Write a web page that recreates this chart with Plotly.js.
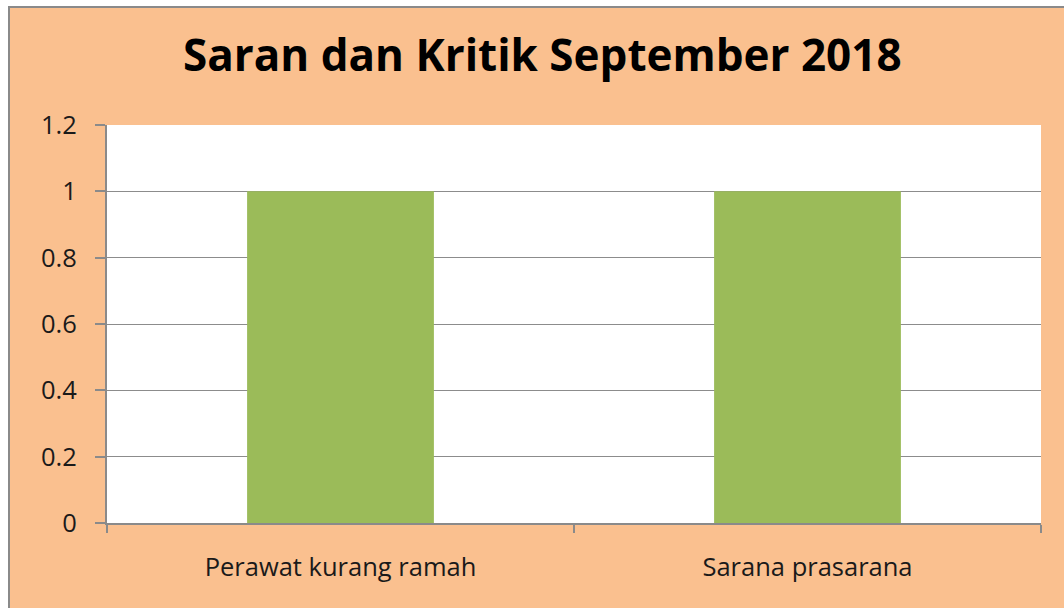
<!DOCTYPE html>
<html>
<head>
<meta charset="utf-8">
<script src="https://cdn.plot.ly/plotly-3.0.1.min.js"></script>
<style>
html, body { margin: 0; padding: 0; background: #ffffff; width: 1064px; height: 608px; overflow: hidden; }
#frame { position: absolute; left: 8px; top: 6px; width: 1056px; height: 602px; border-left: 2px solid #8a8a8a; border-top: 2px solid #8a8a8a; box-sizing: border-box; }
#chart { position: absolute; left: 0; top: 0; width: 1054px; height: 600px; }
</style>
</head>
<body>
<div id="frame"><div id="chart"></div></div>
<script>
var categories = ["Perawat kurang ramah", "Sarana prasarana"];
var values = [1, 1];
var tickValues = [0, 0.2, 0.4, 0.6, 0.8, 1, 1.2];
var tickLabels = ["0", "0.2", "0.4", "0.6", "0.8", "1", "1.2"];
var chartTitle = "Saran dan Kritik September 2018";

var trace = {
  type: "bar",
  x: categories,
  y: values,
  marker: { color: "#9bbb59" },
  width: 0.4,
  hoverinfo: "x+y"
};

var layout = {
  width: 1054,
  height: 600,
  paper_bgcolor: "#fac08f",
  plot_bgcolor: "#ffffff",
  margin: { l: 97, r: 23, t: 117, b: 85 },
  showlegend: false,
  title: {
    text: "<b>" + chartTitle + "</b>",
    font: { family: "Open Sans, sans-serif", size: 44, color: "#000000" },
    x: 0.505, xanchor: "center",
    y: 0.92, yanchor: "middle"
  },
  xaxis: {
    type: "category",
    tickson: "boundaries",
    ticks: "outside",
    ticklen: 8,
    tickcolor: "#8a8a8a",
    tickwidth: 2,
    showline: true,
    linecolor: "#8a8a8a",
    linewidth: 2,
    showgrid: false,
    tickfont: { family: "Open Sans, sans-serif", size: 25.5, color: "#1a1a1a" },
    ticklabelstandoff: 20,
    fixedrange: true
  },
  yaxis: {
    range: [0, 1.2],
    tickvals: tickValues,
    ticktext: tickLabels,
    ticks: "outside",
    ticklen: 10,
    tickcolor: "#8a8a8a",
    tickwidth: 2,
    showline: true,
    linecolor: "#8a8a8a",
    linewidth: 2,
    showgrid: true,
    gridcolor: "#8c8c8c",
    gridwidth: 1,
    zeroline: false,
    tickfont: { family: "Open Sans, sans-serif", size: 25.5, color: "#1a1a1a" },
    ticklabelstandoff: 13,
    fixedrange: true
  }
};

Plotly.newPlot("chart", [trace], layout, { displayModeBar: false, staticPlot: true });
</script>
</body>
</html>
